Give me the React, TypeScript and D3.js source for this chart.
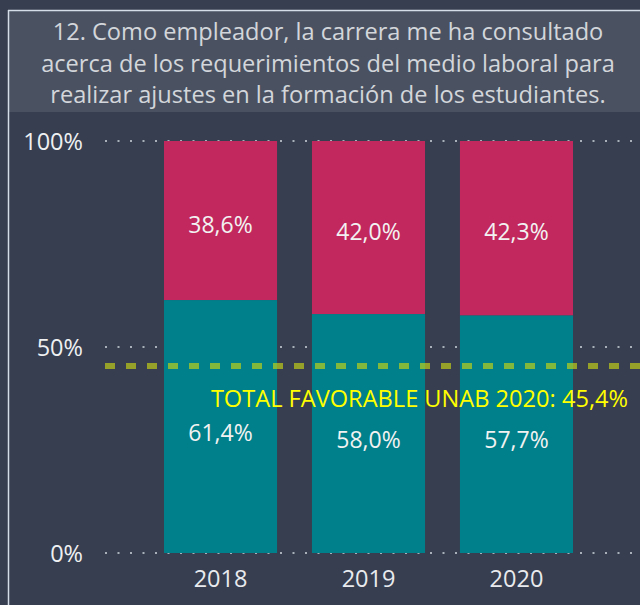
import React from "react";
import * as d3 from "d3";

const years = ["2018", "2019", "2020"];
const favorable = [61.4, 58.0, 57.7];
const unfavorable = [38.6, 42.0, 42.3];
const yTicks = [0, 50, 100];
const referenceValue = 45.4;
const referenceLabel = "TOTAL FAVORABLE UNAB 2020: 45,4%";
const titleLines = [
  "12. Como empleador, la carrera me ha consultado",
  "acerca de los requerimientos del medio laboral para",
  "realizar ajustes en la formación de los estudiantes.",
];

const W = 640;
const H = 605;
const FONT = "'Open Sans', 'Noto Sans', sans-serif";

const fmt = (v: number) => v.toFixed(1).replace(".", ",") + "%";

export default function App() {
  const x = d3.scaleBand().domain(years).range([164, 573]).paddingInner(0.236).paddingOuter(0);
  const y = d3.scaleLinear().domain([0, 100]).range([553, 141]);
  const bw = x.bandwidth();

  return (
    <svg width={W} height={H} style={{ position: "absolute", left: 0, top: 0, display: "block" }}>
      <rect x={0} y={0} width={W} height={H} fill="#373e50" />
      <rect x={9} y={11} width={W - 9} height={101} fill="#4a5262" />
      <line x1={8.5} y1={10} x2={8.5} y2={H} stroke="#d4dde8" strokeWidth={1.5} />
      <line x1={8} y1={10.5} x2={W} y2={10.5} stroke="#d4dde8" strokeWidth={1.5} />
      {titleLines.map((t, i) => (
        <text key={i} x={328} y={40 + i * 31.5} textAnchor="middle" fill="#d3d6da" fontFamily={FONT} fontSize={23.6}>
          {t}
        </text>
      ))}
      {yTicks.map((t) => (
        <g key={t}>
          <line x1={105} x2={W} y1={y(t)} y2={y(t)} stroke="#aab0ba" strokeWidth={2} strokeDasharray="2 10.5" strokeLinecap="butt" />
          <text x={83} y={y(t) + 8.5} textAnchor="end" fill="#eef0f2" fontFamily={FONT} fontSize={23.5}>
            {t + "%"}
          </text>
        </g>
      ))}
      {years.map((yr, i) => {
        const x0 = x(yr) as number;
        const f = favorable[i];
        const u = unfavorable[i];
        return (
          <g key={yr}>
            <rect x={x0} width={bw} y={y(f)} height={y(0) - y(f)} fill="#00808a" />
            <rect x={x0} width={bw} y={y(f + u)} height={y(f) - y(f + u)} fill="#c2285d" />
            <text x={x0 + bw / 2} y={(y(f) + y(0)) / 2 + 14} textAnchor="middle" fill="#f2f2f2" fontFamily={FONT} fontSize={23}>
              {fmt(f)}
            </text>
            <text x={x0 + bw / 2} y={(y(f + u) + y(f)) / 2 + 12} textAnchor="middle" fill="#f2f2f2" fontFamily={FONT} fontSize={23}>
              {fmt(u)}
            </text>
            <text x={x0 + bw / 2} y={587} textAnchor="middle" fill="#e8eaee" fontFamily={FONT} fontSize={23.5}>
              {yr}
            </text>
          </g>
        );
      })}
      <line x1={105} x2={W} y1={y(referenceValue)} y2={y(referenceValue)} stroke="rgb(200,215,20)" strokeOpacity={0.65} strokeWidth={6} strokeDasharray="10 11" />
      <text x={628} y={407} textAnchor="end" fill="#ffff00" fontFamily={FONT} fontSize={23.6}>
        {referenceLabel}
      </text>
    </svg>
  );
}
